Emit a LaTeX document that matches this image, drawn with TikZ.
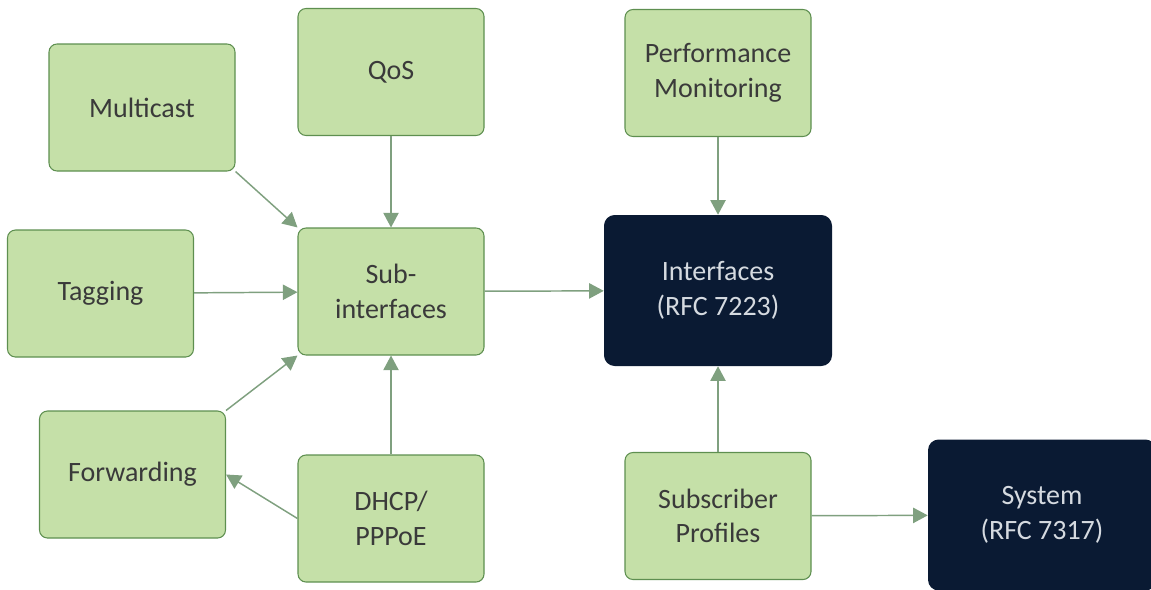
\documentclass[tikz,border=0pt]{standalone}
\usepackage{fontspec}
\setmainfont{Carlito}
\usepackage{xcolor}
\usetikzlibrary{arrows.meta, shapes}
\definecolor{boxgreen}{HTML}{C5E0A8}
\definecolor{boxedge}{HTML}{5E8F50}
\definecolor{navy}{HTML}{0A1A33}
\definecolor{linkgreen}{HTML}{7FA07F}
\definecolor{textgray}{HTML}{3A3A3A}
\definecolor{textlight}{HTML}{D5DAE0}
\tikzstyle{feature} = [rectangle, rounded corners=6pt, minimum width=139.5pt, minimum height=95.25pt, align=center, draw=boxedge, line width=0.8pt, fill=boxgreen, text=textgray, font=\fontsize{21}{26}\selectfont]
\tikzstyle{rfc} = [rectangle, rounded corners=8pt, minimum width=171pt, minimum height=113.25pt, align=center, fill=navy, text=textlight, font=\fontsize{21}{26}\selectfont]
\tikzstyle{arrow} = [line width=1.1pt, draw=linkgreen, -{Triangle[width=11.5pt,length=11pt]}]

\begin{document}
\begin{tikzpicture}[x=0.75pt, y=-0.75pt]
\useasboundingbox (0,0) rectangle (1151,589);

\node at (142, 107.5) (multicast) [feature] {Multicast};
\node at (391, 72) (qos) [feature] {QoS};
\node at (718, 73) (perf) [feature] {Performance\\Monitoring};
\node at (100.5, 293.5) (tagging) [feature] {Tagging};
\node at (391, 291.5) (subif) [feature] {Sub-\\interfaces};
\node at (718, 290.5) (interfaces) [rfc] {Interfaces\\(RFC 7223)};
\node at (132.5, 474.5) (forwarding) [feature] {Forwarding};
\node at (391, 518.5) (dhcp) [feature] {DHCP/\\PPPoE};
\node at (718, 516) (subscriber) [feature] {Subscriber\\Profiles};
\node at (1042, 515) (system) [rfc] {System\\(RFC 7317)};

\draw [arrow] (multicast.south east) -- (subif.north west);
\draw [arrow] (qos) -- (subif);
\draw [arrow] (tagging) -- (subif);
\draw [arrow] (forwarding.north east) -- (subif.south west);
\draw [arrow] (dhcp) -- (subif);
\draw [arrow] (dhcp.west) -- (forwarding.east);
\draw [arrow] (subif) -- (interfaces);
\draw [arrow] (perf) -- (interfaces);
\draw [arrow] (subscriber) -- (interfaces);
\draw [arrow] (subscriber) -- (system);

\end{tikzpicture}
\end{document}
